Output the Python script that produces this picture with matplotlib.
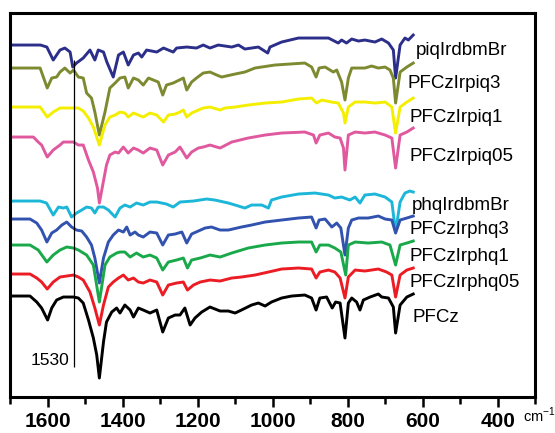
import matplotlib.pyplot as plt
from matplotlib.ticker import MultipleLocator

plt.rcParams['font.family'] = ['Liberation Sans', 'DejaVu Sans']
plt.rcParams['mathtext.fontset'] = 'custom'
plt.rcParams['mathtext.rm'] = 'Liberation Sans'

# FTIR spectra, stacked (intensity in arbitrary units, offsets already applied)
piq_wn = [1700, 1620, 1603, 1586, 1568, 1555, 1541, 1534, 1524, 1506, 1488, 1475, 1466, 1452, 1443,
          1426, 1412, 1399, 1386, 1372, 1359, 1350, 1337, 1310, 1292, 1266, 1257, 1230, 1204, 1186,
          1168, 1146, 1110, 1092, 1075, 1057, 1039, 1014, 1008, 977, 932, 888, 852, 826, 817, 804,
          790, 772, 755, 728, 710, 692, 679, 673, 661, 648, 639, 626]
piq_y = [352, 352, 350, 337, 347, 349, 345, 330, 334, 339, 347, 337, 347, 345, 335, 320, 342, 345,
         332, 342, 344, 340, 347, 345, 349, 345, 349, 350, 349, 352, 349, 352, 350, 352, 348, 349,
         350, 344, 350, 355, 359, 359, 359, 354, 357, 354, 358, 356, 357, 355, 358, 354, 347, 319,
         352, 359, 357, 362]

piq3_wn = [1700, 1621, 1602, 1590, 1577, 1568, 1555, 1541, 1532, 1519, 1506, 1497, 1484, 1475, 1463,
           1448, 1435, 1421, 1408, 1395, 1386, 1372, 1359, 1346, 1332, 1306, 1294, 1284, 1266, 1239,
           1230, 1217, 1204, 1186, 1168, 1150, 1137, 1101, 1075, 1048, 995, 915, 897, 885, 877, 861,
           839, 830, 817, 808, 799, 790, 755, 737, 719, 701, 688, 679, 673, 661, 643, 626]
piq3_y = [329, 329, 309, 319, 320, 325, 329, 324, 327, 320, 319, 304, 299, 285, 262, 285, 309, 314,
          319, 320, 309, 319, 317, 312, 319, 315, 302, 312, 314, 319, 307, 315, 319, 324, 325, 322,
          320, 323, 325, 329, 332, 334, 330, 320, 329, 330, 325, 327, 315, 297, 319, 329, 329, 331,
          329, 330, 327, 319, 294, 325, 330, 334]

piq1_wn = [1700, 1621, 1602, 1586, 1568, 1550, 1532, 1519, 1506, 1492, 1479, 1463, 1448, 1435, 1421,
           1408, 1395, 1386, 1372, 1359, 1346, 1328, 1310, 1292, 1279, 1261, 1248, 1239, 1230, 1217,
           1199, 1186, 1168, 1141, 1128, 1101, 1066, 1021, 977, 932, 897, 884, 870, 844, 826, 812,
           808, 799, 781, 755, 728, 701, 683, 673, 661, 643, 626]
piq1_y = [290, 290, 280, 285, 289, 289, 289, 289, 286, 279, 270, 252, 272, 280, 282, 285, 284, 280,
          284, 282, 280, 284, 282, 275, 282, 283, 285, 287, 280, 284, 287, 289, 290, 287, 289, 290,
          292, 294, 295, 298, 299, 294, 297, 295, 294, 284, 274, 290, 295, 295, 294, 295, 290, 264,
          290, 295, 299]

piq05_wn = [1700, 1639, 1626, 1617, 1602, 1586, 1568, 1559, 1532, 1519, 1506, 1492, 1479, 1468, 1463,
            1454, 1444, 1435, 1421, 1412, 1399, 1386, 1372, 1359, 1346, 1328, 1310, 1294, 1279, 1261,
            1248, 1230, 1217, 1199, 1186, 1168, 1141, 1110, 1066, 1021, 977, 915, 892, 885, 875, 852,
            835, 821, 812, 808, 799, 781, 755, 728, 701, 683, 673, 661, 643, 626]
piq05_y = [260, 260, 255, 252, 240, 247, 252, 255, 255, 252, 252, 237, 225, 209, 194, 212, 232, 242,
           245, 244, 250, 244, 249, 247, 244, 249, 247, 232, 242, 245, 250, 239, 245, 249, 250, 252,
           249, 255, 259, 262, 264, 265, 262, 254, 262, 264, 260, 259, 249, 227, 262, 265, 264, 265,
           262, 259, 229, 262, 265, 269]

phq_wn = [1700, 1621, 1604, 1586, 1572, 1559, 1550, 1537, 1524, 1510, 1497, 1484, 1475, 1466, 1452,
          1439, 1421, 1408, 1395, 1381, 1364, 1346, 1328, 1310, 1284, 1266, 1248, 1212, 1177, 1155,
          1119, 1101, 1075, 1057, 1030, 1012, 1004, 977, 932, 888, 852, 835, 817, 795, 781, 768,
          755, 728, 701, 683, 673, 661, 648, 635, 626]
phq_y = [196, 196, 194, 182, 190, 189, 190, 180, 184, 187, 190, 189, 184, 190, 190, 187, 180, 189,
         192, 190, 194, 192, 195, 195, 193, 190, 195, 196, 198, 197, 194, 192, 189, 192, 192, 189,
         197, 200, 203, 204, 202, 199, 200, 197, 200, 194, 202, 203, 200, 195, 165, 195, 204, 206, 205]

phq3_wn = [1700, 1648, 1630, 1617, 1603, 1590, 1577, 1563, 1550, 1537, 1524, 1510, 1497, 1484, 1475,
           1463, 1452, 1439, 1426, 1412, 1399, 1390, 1381, 1368, 1359, 1346, 1328, 1310, 1294, 1279,
           1261, 1243, 1230, 1217, 1199, 1181, 1164, 1141, 1119, 1084, 1057, 1021, 977, 932, 897,
           885, 877, 861, 843, 830, 819, 808, 799, 790, 772, 746, 719, 701, 683, 673, 661, 643, 626]
phq3_y = [178, 178, 174, 167, 155, 164, 167, 172, 175, 170, 167, 166, 160, 152, 139, 114, 139, 155,
          162, 167, 165, 170, 162, 165, 162, 160, 165, 164, 152, 162, 163, 165, 154, 163, 166, 169,
          170, 167, 167, 170, 172, 175, 177, 179, 180, 169, 177, 178, 170, 174, 169, 142, 169, 177,
          179, 179, 181, 178, 177, 164, 177, 179, 181]

phq1_wn = [1700, 1648, 1626, 1603, 1586, 1568, 1550, 1532, 1519, 1497, 1479, 1463, 1448, 1435, 1417,
           1408, 1395, 1381, 1364, 1346, 1328, 1310, 1294, 1279, 1257, 1239, 1228, 1217, 1194, 1168,
           1141, 1110, 1066, 1021, 977, 932, 897, 885, 875, 852, 835, 819, 806, 799, 781, 746, 710,
           688, 673, 661, 643, 626]
phq1_y = [152, 152, 147, 135, 142, 147, 150, 149, 147, 142, 132, 95, 132, 140, 144, 145, 145, 140,
          144, 140, 142, 139, 127, 135, 137, 139, 129, 137, 139, 142, 140, 144, 149, 152, 154, 155,
          155, 145, 152, 152, 149, 145, 122, 152, 155, 154, 155, 152, 132, 152, 154, 156]

phq05_wn = [1700, 1648, 1630, 1617, 1602, 1586, 1568, 1550, 1532, 1519, 1506, 1488, 1475, 1463, 1452,
            1439, 1426, 1412, 1399, 1386, 1372, 1359, 1346, 1328, 1310, 1294, 1279, 1257, 1239, 1228,
            1212, 1194, 1168, 1141, 1110, 1084, 1048, 1012, 977, 932, 897, 885, 875, 852, 835, 821,
            808, 799, 781, 755, 719, 697, 683, 673, 661, 643, 626]
phq05_y = [123, 123, 119, 115, 108, 115, 120, 121, 122, 120, 117, 105, 89, 72, 92, 110, 115, 119, 122,
           117, 119, 115, 114, 117, 115, 102, 112, 114, 115, 107, 112, 115, 117, 116, 119, 120, 122,
           125, 128, 129, 128, 119, 125, 127, 125, 119, 99, 120, 127, 126, 128, 125, 122, 100, 122,
           127, 129]

pfcz_wn = [1700, 1648, 1630, 1617, 1601, 1590, 1577, 1559, 1532, 1519, 1506, 1492, 1479, 1470, 1463,
           1452, 1444, 1430, 1417, 1408, 1395, 1381, 1372, 1359, 1346, 1328, 1310, 1294, 1279, 1261,
           1248, 1235, 1221, 1208, 1190, 1168, 1141, 1119, 1101, 1084, 1057, 1039, 1021, 1004, 977,
           950, 915, 897, 885, 875, 857, 842, 833, 821, 808, 799, 790, 777, 768, 759, 741, 719, 710,
           692, 679, 673, 661, 643, 626]
pfcz_y = [101, 101, 95, 89, 77, 89, 97, 100, 100, 99, 94, 77, 59, 42, 19, 55, 75, 85, 89, 84, 92, 87,
          80, 89, 87, 84, 87, 65, 79, 82, 82, 89, 72, 79, 85, 90, 86, 86, 84, 87, 92, 94, 91, 95, 99,
          101, 102, 99, 87, 99, 100, 89, 95, 94, 59, 94, 99, 95, 87, 97, 100, 103, 100, 99, 90, 64,
          92, 100, 103]

spectra = [
    ('piqIrdbmBr', piq_wn, piq_y, '#2b2f8a', 619, 347),
    ('PFCzIrpiq3', piq3_wn, piq3_y, '#7d8a30', 640, 314),
    ('PFCzIrpiq1', piq1_wn, piq1_y, '#f4ee00', 637, 280),
    ('PFCzIrpiq05', piq05_wn, piq05_y, '#e0589e', 637, 241),
    ('phqIrdbmBr', phq_wn, phq_y, '#1cb6d8', 629, 192),
    ('PFCzIrphq3', phq3_wn, phq3_y, '#3152ae', 635, 168),
    ('PFCzIrphq1', phq1_wn, phq1_y, '#19a94a', 635, 141),
    ('PFCzIrphq05', phq05_wn, phq05_y, '#ec1c24', 635, 115),
    ('PFCz', pfcz_wn, pfcz_y, '#000000', 627, 80),
]

marker_wn = 1530

fig = plt.figure(figsize=(5.55, 4.33), dpi=100)
ax = fig.add_axes([0.0189, 0.0831, 0.9459, 0.8868])

for name, wn, y, color, lx, ly in spectra:
    ax.plot(wn, y, color=color, lw=2.1, solid_joinstyle='round')
    ax.text(lx, ly, name, fontsize=13.5, ha='left', va='center')

ax.vlines(marker_wn, 30, 337, color='black', lw=0.9)
ax.text(marker_wn + 13, 37, str(marker_wn), fontsize=12.5, ha='right', va='center')

ax.set_xlim(1700, 300)
ax.set_ylim(0, 384)
ax.xaxis.set_major_locator(MultipleLocator(200))
ax.xaxis.set_minor_locator(MultipleLocator(100))
ax.set_yticks([])
for lbl in ax.get_xticklabels():
    lbl.set_fontweight('bold')
ax.tick_params(axis='x', which='major', length=7, width=1.8, labelsize=15, pad=4)
ax.tick_params(axis='x', which='minor', length=5, width=1.8)
for sp in ax.spines.values():
    sp.set_linewidth(2.2)

fig.text(0.943, 0.025, r'cm$^{\mathregular{-1}}$', fontsize=10.5, ha='left', va='baseline')

fig.savefig('out.png', dpi=100)
